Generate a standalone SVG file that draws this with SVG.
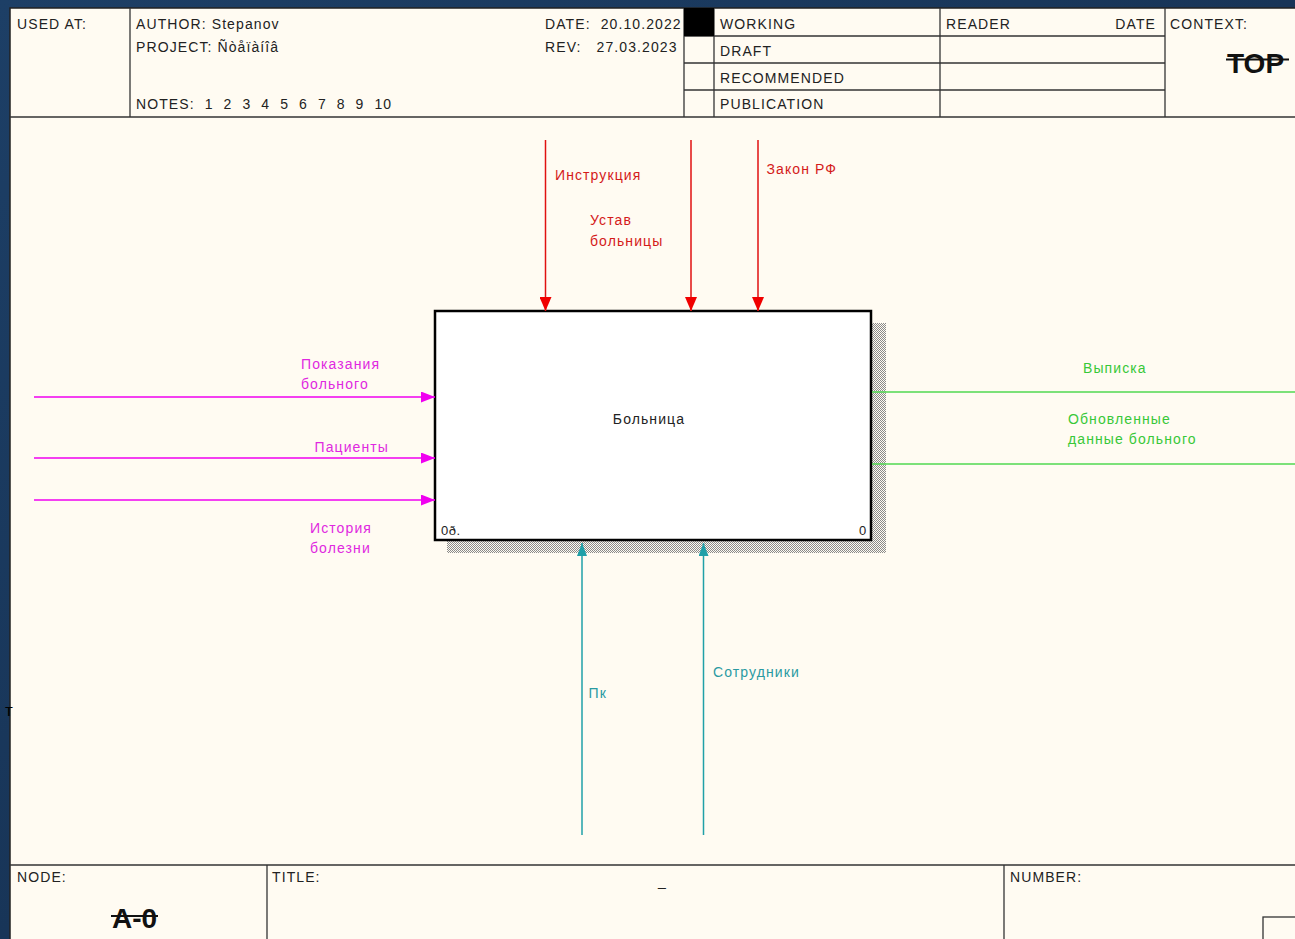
<svg xmlns="http://www.w3.org/2000/svg" width="1295" height="939" viewBox="0 0 1295 939">
<style>
.t{font-family:"Liberation Sans",Arial,sans-serif;font-size:14px;letter-spacing:1.1px;fill:#222}
.b{font-family:"Liberation Sans",Arial,sans-serif;font-size:28px;font-weight:bold;fill:#111}
.ln{stroke:#333;stroke-width:1.3;fill:none}
.red{stroke:#E01010;stroke-width:1.5;fill:none}
.mag{stroke:#F000F0;stroke-width:1.5;fill:none}
.grn{stroke:#50D850;stroke-width:1.5;fill:none}
.teal{stroke:#20A0A8;stroke-width:1.5;fill:none}
.tr{fill:#D41A1A}
.tm{fill:#E028E0}
.tg{fill:#38C838}
.tt{fill:#2A9AA2}
</style>
<defs>
<linearGradient id="bg" x1="0" y1="0" x2="1" y2="1">
<stop offset="0" stop-color="#1d3f66"/>
<stop offset="0.5" stop-color="#183558"/>
<stop offset="1" stop-color="#1e4068"/>
</linearGradient>
<pattern id="hatch" width="2" height="2" patternUnits="userSpaceOnUse">
<rect width="2" height="2" fill="#FFFBF2"/>
<rect width="1" height="1" fill="#8a8a8a"/>
<rect x="1" y="1" width="1" height="1" fill="#8a8a8a"/>
</pattern>
<marker id="ar" viewBox="0 0 14 12" refX="14" refY="6" markerWidth="14" markerHeight="12" markerUnits="userSpaceOnUse" orient="auto"><path d="M0,0L14,6L0,12z" fill="#F00000"/></marker>
<marker id="am" viewBox="0 0 14 11" refX="14" refY="5.5" markerWidth="14" markerHeight="11" markerUnits="userSpaceOnUse" orient="auto"><path d="M0,0L14,5.5L0,11z" fill="#F000F0"/></marker>
<marker id="at" viewBox="0 0 13 10" refX="13" refY="5" markerWidth="13" markerHeight="10" markerUnits="userSpaceOnUse" orient="auto"><path d="M0,0L13,5L0,10z" fill="#20A0A8"/></marker>
</defs>
<rect width="1295" height="939" fill="url(#bg)"/>
<rect x="10" y="8" width="1290" height="940" fill="#FFFBF2" stroke="#222" stroke-width="1.5"/>
<g id="header">
<line class="ln" x1="10" y1="117" x2="1295" y2="117"/>
<line class="ln" x1="130" y1="8" x2="130" y2="117"/>
<line class="ln" x1="684" y1="8" x2="684" y2="117"/>
<line class="ln" x1="714" y1="8" x2="714" y2="117"/>
<line class="ln" x1="940" y1="8" x2="940" y2="117"/>
<line class="ln" x1="1165" y1="8" x2="1165" y2="117"/>
<line class="ln" x1="684" y1="36" x2="1165" y2="36"/>
<line class="ln" x1="684" y1="63" x2="1165" y2="63"/>
<line class="ln" x1="684" y1="90" x2="1165" y2="90"/>
<rect x="684" y="8" width="30" height="28" fill="#000"/>
<text class="t" x="17" y="28.5">USED AT:</text>
<text class="t" x="136" y="28.5">AUTHOR:  Stepanov</text>
<text class="t" x="136" y="52">PROJECT:  Ñòåïàíîâ</text>
<text class="t" x="136" y="108.5" xml:space="preserve">NOTES:  1  2  3  4  5  6  7  8  9  10</text>
<text class="t" x="545" y="28.5" xml:space="preserve">DATE:  20.10.2022</text>
<text class="t" x="545" y="52" xml:space="preserve">REV:   27.03.2023</text>
<text class="t" x="720" y="28.5">WORKING</text>
<text class="t" x="720" y="55.5">DRAFT</text>
<text class="t" x="720" y="82.5">RECOMMENDED</text>
<text class="t" x="720" y="109">PUBLICATION</text>
<text class="t" x="946" y="28.5">READER</text>
<text class="t" x="1156" y="28.5" text-anchor="end">DATE</text>
<text class="t" x="1170" y="28.5">CONTEXT:</text>
<text class="b" x="1227" y="73">TOP</text>
<line x1="1226" y1="59.5" x2="1289" y2="59.5" stroke="#111" stroke-width="2"/>
</g>
<g id="footer">
<line class="ln" x1="10" y1="865" x2="1295" y2="865"/>
<line class="ln" x1="267" y1="865" x2="267" y2="939"/>
<line class="ln" x1="1004" y1="865" x2="1004" y2="939"/>
<rect x="1263" y="917" width="40" height="30" fill="none" stroke="#333" stroke-width="1.3"/>
<text class="t" x="17" y="882">NODE:</text>
<text class="b" x="112" y="928">A-0</text>
<line x1="111" y1="916" x2="158" y2="916" stroke="#111" stroke-width="2"/>
<text class="t" x="272" y="882">TITLE:</text>
<text class="t" x="658" y="886">_</text>
<text class="t" x="1010" y="882">NUMBER:</text>
</g>
<g id="node-A0">
<rect x="872" y="323" width="14" height="230" fill="url(#hatch)"/>
<rect x="447" y="541" width="439" height="12" fill="url(#hatch)"/>
<rect x="435" y="311" width="436" height="229" fill="#FFFFFF" stroke="#000" stroke-width="2.5"/>
<text class="t" x="649" y="424" text-anchor="middle">Больница</text>
<text class="t" x="441" y="535" style="font-size:13px;letter-spacing:0.5px">0ð.</text>
<text class="t" x="859" y="535" style="font-size:13px">0</text>
</g>
<g id="connectors">
<line class="red" x1="545.5" y1="140" x2="545.5" y2="311" marker-end="url(#ar)"/>
<line class="red" x1="691" y1="140" x2="691" y2="311" marker-end="url(#ar)"/>
<line class="red" x1="758" y1="140" x2="758" y2="311" marker-end="url(#ar)"/>
<line class="mag" x1="34" y1="397" x2="435" y2="397" marker-end="url(#am)"/>
<line class="mag" x1="34" y1="458" x2="435" y2="458" marker-end="url(#am)"/>
<line class="mag" x1="34" y1="500" x2="435" y2="500" marker-end="url(#am)"/>
<line class="grn" x1="872" y1="392" x2="1295" y2="392"/>
<line class="grn" x1="872" y1="464" x2="1295" y2="464"/>
<line class="teal" x1="582" y1="835" x2="582" y2="543" marker-end="url(#at)"/>
<line class="teal" x1="703.5" y1="835" x2="703.5" y2="543" marker-end="url(#at)"/>
</g>
<g id="labels">
<text class="t tr" x="555" y="180">Инструкция</text>
<text class="t tr" x="590" y="225">Устав</text>
<text class="t tr" x="590" y="245.5">больницы</text>
<text class="t tr" x="766.5" y="174">Закон РФ</text>
<text class="t tm" x="301" y="368.5">Показания</text>
<text class="t tm" x="301" y="389">больного</text>
<text class="t tm" x="314.5" y="452">Пациенты</text>
<text class="t tm" x="310" y="533">История</text>
<text class="t tm" x="310" y="553">болезни</text>
<text class="t tg" x="1083" y="373">Выписка</text>
<text class="t tg" x="1068" y="423.5">Обновленные</text>
<text class="t tg" x="1068" y="443.5">данные больного</text>
<text class="t tt" x="588.5" y="698">Пк</text>
<text class="t tt" x="713" y="677">Сотрудники</text>
</g>
<text x="5" y="716" style="font-family:'Liberation Sans',Arial,sans-serif;font-size:17px;fill:#000">т</text>
</svg>
